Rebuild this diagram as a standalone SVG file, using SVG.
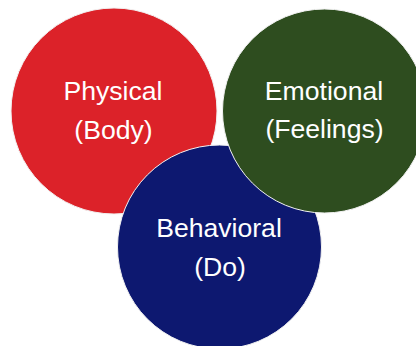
<svg xmlns="http://www.w3.org/2000/svg" width="416" height="346" viewBox="0 0 416 346">
<style>
.c{stroke:#f2f2f2;stroke-width:1}
.t{font-family:"Liberation Sans",Arial,sans-serif;font-size:26.6px;fill:#ffffff;text-anchor:middle}
</style>
<rect width="416" height="346" fill="#ffffff"/>
<g id="physical">
<circle class="c" cx="114" cy="111" r="103" fill="#DC2229"/>
<text class="t" x="113" y="100">Physical</text>
<text class="t" x="113.5" y="139">(Body)</text>
</g>
<g id="behavioral">
<circle class="c" cx="219.5" cy="247" r="102" fill="#0D1870"/>
<text class="t" x="219" y="237">Behavioral</text>
<text class="t" x="220" y="276">(Do)</text>
</g>
<g id="emotional">
<circle class="c" cx="324.5" cy="111" r="102" fill="#2E4D1F"/>
<text class="t" x="324" y="100">Emotional</text>
<text class="t" x="324.5" y="138">(Feelings)</text>
</g>
<g id="connectors"></g>
</svg>
